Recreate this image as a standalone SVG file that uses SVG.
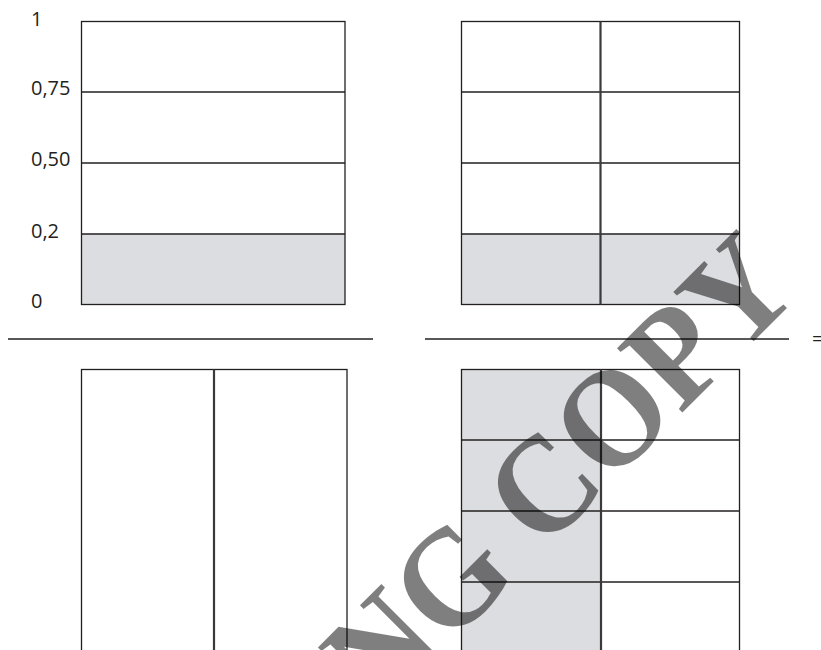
<svg xmlns="http://www.w3.org/2000/svg" width="821" height="650" viewBox="0 0 821 650">
<style>
.ln{stroke:#231f20;stroke-width:1.3;fill:none}
.dv{stroke:#3a3a3a;stroke-width:2.2;fill:none}
.sh{fill:#dcdde0;stroke:none}
.lb{font-family:"Open Sans","Liberation Sans",sans-serif;font-size:20px;fill:#231f20}
.wm{font-family:"Liberation Serif","DejaVu Serif",serif;font-weight:bold;font-size:140px;fill:#000;fill-opacity:0.5}
</style>
<rect width="821" height="650" fill="#fff"/>
<g id="scale-labels">
<text class="lb" x="31" y="26">1</text>
<text class="lb" x="31" y="95">0,75</text>
<text class="lb" x="31" y="166">0,50</text>
<text class="lb" x="31" y="238">0,2</text>
<text class="lb" x="31" y="308">0</text>
</g>
<g id="box-top-left">
<rect class="sh" x="81.5" y="234" width="263.5" height="70.5"/>
<rect class="ln" x="81.5" y="21.5" width="263.5" height="283"/>
<line class="ln" x1="81.5" y1="92" x2="345" y2="92"/>
<line class="ln" x1="81.5" y1="163" x2="345" y2="163"/>
<line class="ln" x1="81.5" y1="234" x2="345" y2="234"/>
</g>
<g id="box-top-right">
<rect class="sh" x="461.5" y="234" width="278" height="70.5"/>
<rect class="ln" x="461.5" y="21.5" width="278" height="283"/>
<line class="ln" x1="461.5" y1="92" x2="739.5" y2="92"/>
<line class="ln" x1="461.5" y1="163" x2="739.5" y2="163"/>
<line class="ln" x1="461.5" y1="234" x2="739.5" y2="234"/>
<line class="dv" x1="600.5" y1="21.5" x2="600.5" y2="304.5"/>
</g>
<g id="connectors">
<line class="ln" x1="8" y1="339" x2="373" y2="339"/>
<line class="ln" x1="425" y1="339" x2="789" y2="339"/>
</g>
<g id="equals">
<text class="lb" x="812" y="346">=</text>
</g>
<g id="box-bottom-left">
<rect class="ln" x="81.5" y="369.5" width="265.5" height="290"/>
<line class="dv" x1="214" y1="369.5" x2="214" y2="650"/>
</g>
<g id="box-bottom-right">
<rect class="sh" x="461.5" y="369.5" width="139" height="290"/>
<rect class="ln" x="461.5" y="369.5" width="278" height="290"/>
<line class="ln" x1="461.5" y1="440" x2="739.5" y2="440"/>
<line class="ln" x1="461.5" y1="511" x2="739.5" y2="511"/>
<line class="ln" x1="461.5" y1="582" x2="739.5" y2="582"/>
<line class="dv" x1="601" y1="369.5" x2="601" y2="650"/>
</g>
<g id="watermark">
<text class="wm" transform="translate(592,503) rotate(-45) scale(0.93,1)" text-anchor="middle" x="0" y="0">NG COPY</text>
</g>
</svg>
